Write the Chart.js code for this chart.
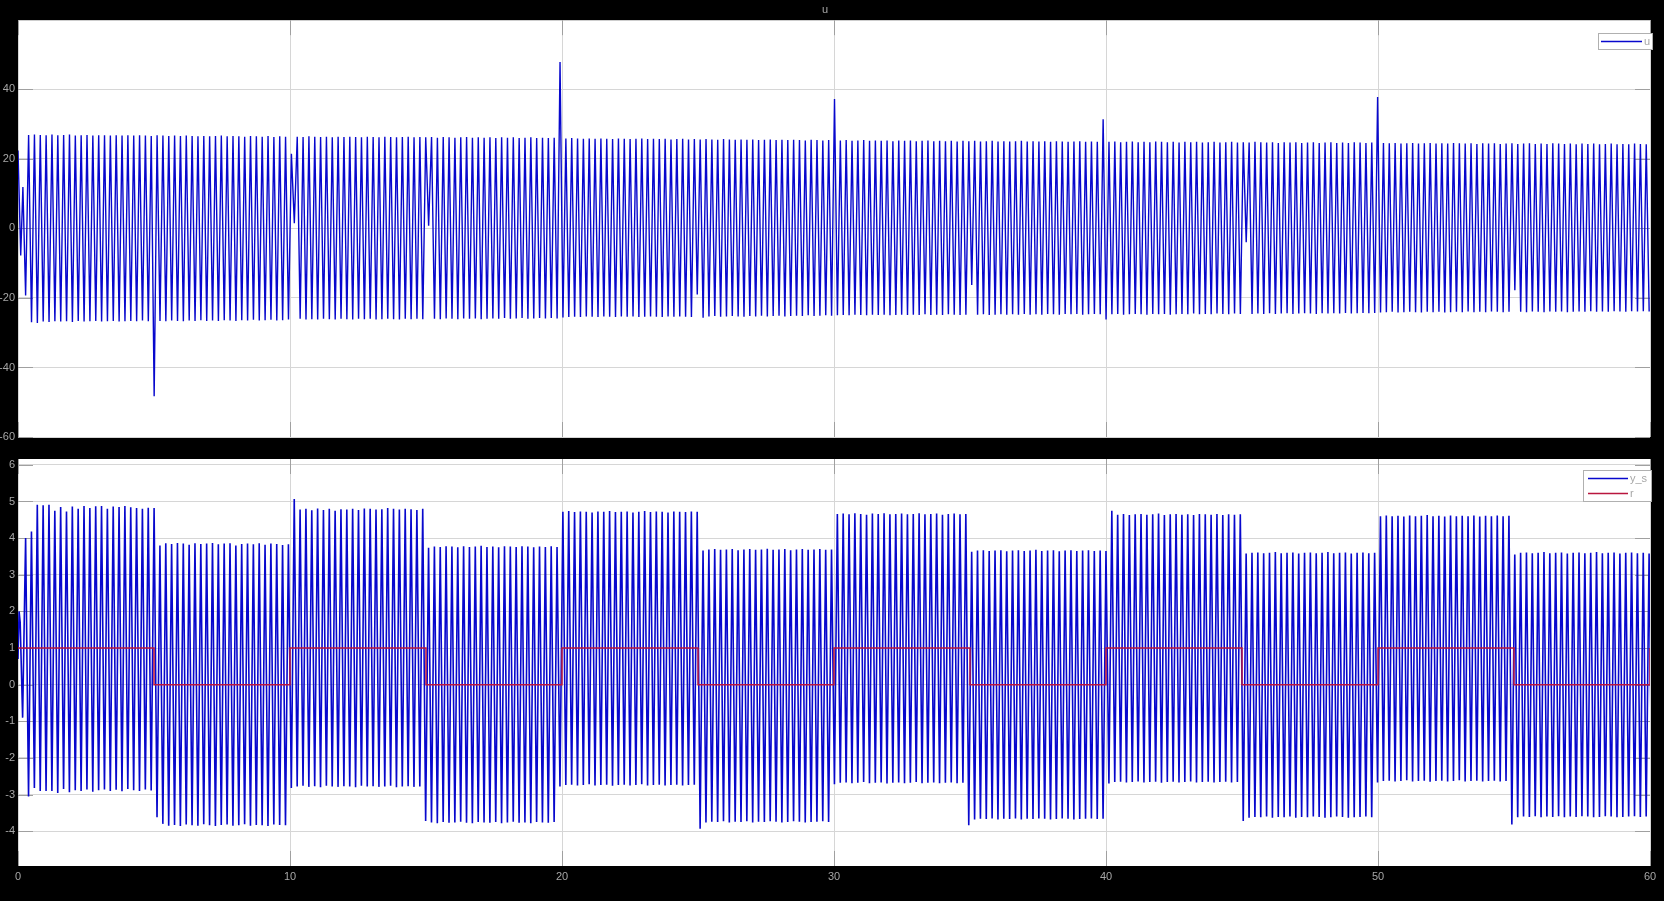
<!DOCTYPE html>
<html><head><meta charset="utf-8">
<script src="https://cdn.jsdelivr.net/npm/chart.js@4.4.1/dist/chart.umd.min.js"></script>
<style>
html,body{margin:0;padding:0;background:#000;width:1664px;height:901px;overflow:hidden}
#c1{position:absolute;left:0;top:0}
#c2{position:absolute;left:0;top:448px}
</style></head><body>
<canvas id="c1" width="1664" height="448"></canvas>
<canvas id="c2" width="1664" height="453"></canvas>
<script>
// ---------- data ----------
const xTicks = [0, 10, 20, 30, 40, 50, 60];
const uYTicks = [-60, -40, -20, 0, 20, 40];
const yYTicks = [-4, -3, -2, -1, 0, 1, 2, 3, 4, 5, 6];

// oscillation period (s) of both signals
const period = 0.2147;

// u : start-up transient, then alternating peaks / troughs every half period
const uStartT = [0, 0.10, 0.18, 0.28];
const uStartV = [22.4, -7.8, 11.9, -19.3];
const uT0 = 0.39;
const uPeaks = [
 26.9,27.0,26.9,26.8,27.0, 26.8,26.9,27.0,26.7,26.8, 26.9,26.7,26.8,26.8,26.7, 26.8,26.7,26.8,26.7,26.8, 26.7,26.6,26.8,26.7,26.6, 26.7,26.6,26.7,26.6,26.5, 26.6,26.5,26.6,26.7,26.5, 26.6,26.5,26.4,26.6,26.5, 26.4,26.6,26.3,26.5,26.4,
 21.5,26.4,26.3,26.5,26.4, 26.3,26.4,26.2,26.4,26.3, 26.4,26.3,26.2,26.4,26.3, 26.2,26.4,26.3,26.2,26.3, 26.4,26.2,26.3,26.2,26.3, 26.1,26.3,26.2,26.1,26.2, 26.3,26.1,26.2,26.1,26.2, 26.0,26.2,26.1,26.2,26.0, 26.1,26.2,26.0,26.1,26.0, 26.1,47.9,
 25.9,26.0,25.9,25.8,25.9, 25.8,25.9,25.8,25.7,25.9, 25.8,25.7,25.8,25.9,25.7, 25.8,25.7,25.8,25.6,25.7, 25.8,25.6,25.7,25.6,25.7, 25.6,25.5,25.7,25.6,25.5, 25.6,25.5,25.6,25.4,25.5, 25.6,25.4,25.5,25.4,25.5, 25.4,25.3,25.5,25.4,25.3, 25.4,
 37.2,25.3,25.4,25.2,25.3, 25.4,25.2,25.3,25.2,25.3, 25.1,25.3,25.2,25.3,25.1, 25.2,25.3,25.1,25.2,25.1, 25.2,25.0,25.2,25.1,25.2, 25.0,25.1,25.2,25.0,25.1, 25.0,25.1,25.2,25.0,25.1, 25.0,25.1,24.9,25.1,25.0, 24.9,25.0,25.1,24.9,25.0, 24.9,31.4,
 24.9,25.0,24.8,24.9,25.0, 24.8,24.9,24.8,25.0,24.9, 24.8,24.9,24.7,24.9,24.8, 24.9,24.7,24.8,24.9,24.7, 24.8,24.9,24.7,24.8,24.7, 24.9,24.8,24.7,24.8,24.6, 24.8,24.7,24.8,24.6,24.7, 24.8,24.6,24.7,24.8,24.6, 24.7,24.6,24.8,24.7,24.6, 24.7,37.8,
 24.6,24.5,24.6,24.4,24.5, 24.6,24.4,24.5,24.6,24.4, 24.5,24.4,24.6,24.5,24.4, 24.5,24.3,24.5,24.4,24.5, 24.3,24.4,24.5,24.3,24.4, 24.5,24.3,24.4,24.3,24.5, 24.4,24.3,24.4,24.2,24.4, 24.3,24.4,24.2,24.3,24.4, 24.2,24.3,24.2,24.4,24.3, 24.2
];
const uTroughs = [
 -27.0,-27.2,-26.8,-26.9,-26.7, -26.8,-26.7,-26.9,-26.6,-26.8, -26.7,-26.6,-26.8,-26.7,-26.6, -26.8,-26.7,-26.6,-26.7,-26.5, -26.7,-48.3,-26.6,-26.7,-26.5, -26.6,-26.7,-26.5,-26.6,-26.4, -26.6,-26.5,-26.6,-26.4,-26.5, -26.6,-26.4,-26.5,-26.3,-26.5, -26.4,-26.3,-26.5,-26.4,-26.2,
 1.5,-26.0,-26.2,-26.1,-26.2, -26.0,-26.1,-26.2,-26.0,-26.1, -26.2,-26.0,-26.1,-26.0,-26.2, -26.1,-26.0,-26.1,-26.2,-26.0, -26.1,-26.0,-26.1,0.8,-26.0, -26.1,-25.9,-26.0,-26.1,-25.9, -26.0,-25.9,-26.1,-26.0,-25.9, -26.0,-25.8,-26.0,-25.9,-25.8, -26.0,-25.9,-25.8,-25.9,-25.8, -25.9,
 -25.6,-25.5,-25.4,-25.5,-25.3, -25.4,-25.5,-25.3,-25.4,-25.5, -25.3,-25.4,-25.3,-25.5,-25.4, -25.3,-25.4,-25.5,-25.3,-25.4, -25.3,-25.4,-25.5,-19.0,-25.7, -25.3,-25.2,-25.4,-25.3,-25.2, -25.3,-25.4,-25.2,-25.3,-25.1, -25.3,-25.2,-25.1,-25.3,-25.2, -25.1,-25.2,-25.0,-25.2,-25.1, -25.0,-25.1,
 -25.0,-24.9,-25.0,-24.8,-24.9, -25.0,-24.8,-24.9,-24.8,-25.0, -24.9,-24.8,-24.9,-24.8,-24.9, -24.7,-24.9,-24.8,-24.9,-24.7, -24.8,-24.9,-24.8,-16.3,-24.8, -24.7,-24.9,-24.8,-24.7,-24.8, -24.7,-24.8,-24.6,-24.8,-24.7, -24.8,-24.6,-24.7,-24.8,-24.6, -24.7,-24.6,-24.8,-24.7,-24.6, -24.7,
 -26.2,-24.7,-24.6,-24.8,-24.7, -24.6,-24.7,-24.8,-24.6,-24.7, -24.6,-24.8,-24.7,-24.6,-24.7, -24.5,-24.7,-24.6,-24.7,-24.5, -24.6,-24.7,-24.5,-24.6,-4.0, -24.6,-24.5,-24.6,-24.4,-24.6, -24.5,-24.4,-24.6,-24.5,-24.4, -24.5,-24.6,-24.4,-24.5,-24.4, -24.5,-24.3,-24.5,-24.4,-24.3, -24.4,-24.3,
 -24.2,-24.1,-24.0,-24.2,-24.1, -24.0,-24.1,-24.2,-24.0,-24.1, -24.0,-24.2,-24.1,-24.0,-24.1, -23.9,-24.1,-24.0,-24.1,-23.9, -24.0,-24.1,-24.0,-17.8,-24.0, -24.1,-23.9,-24.0,-24.1,-23.9, -24.0,-23.9,-24.1,-24.0,-23.9, -24.0,-23.8,-24.0,-23.9,-24.0, -23.8,-23.9,-24.0,-23.8,-23.9, -23.8,-23.9
];

// y_s : start-up transient, then alternating peaks / troughs
const ysStartT = [0, 0.04, 0.08, 0.17];
const ysStartV = [0.7, 2.0, 1.7, -0.9];
const ysT0 = 0.28;
const ysPeaks = [
 4.0,4.18,4.91,4.9,4.91, 4.75,4.85,4.73,4.86,4.8, 4.88,4.82,4.87,4.88,4.8, 4.86,4.85,4.88,4.84,4.82, 4.8,4.83,4.82,
 3.8,3.86,3.84,3.87,3.85, 3.82,3.86,3.84,3.85,3.87, 3.83,3.85,3.86,3.8,3.84, 3.85,3.83,3.86,3.82,3.85, 3.84,3.81,3.83,
 5.07,4.78,4.8,4.76,4.81, 4.77,4.8,4.75,4.79,4.78, 4.8,4.77,4.81,4.8,4.78, 4.79,4.82,4.8,4.78,4.8, 4.79,4.77,4.8,
 3.74,3.77,3.76,3.78,3.77, 3.75,3.78,3.76,3.77,3.79, 3.76,3.77,3.75,3.78,3.77, 3.76,3.78,3.77,3.75,3.77, 3.76,3.78,3.76,
 4.72,4.74,4.71,4.73,4.72, 4.7,4.73,4.72,4.74,4.71, 4.72,4.73,4.7,4.72,4.74, 4.71,4.73,4.72,4.7,4.73, 4.72,4.71,4.73,4.72,
 3.66,3.69,3.7,3.68,3.69, 3.7,3.67,3.69,3.7,3.68, 3.69,3.71,3.68,3.69,3.7, 3.67,3.69,3.7,3.68,3.69, 3.7,3.68,3.69,
 4.66,4.67,4.65,4.68,4.66, 4.64,4.67,4.66,4.68,4.65, 4.66,4.67,4.65,4.66,4.68, 4.65,4.66,4.67,4.64,4.66, 4.67,4.65,4.66,
 3.63,3.66,3.67,3.65,3.66, 3.67,3.64,3.66,3.67,3.65, 3.66,3.68,3.65,3.66,3.67, 3.64,3.66,3.67,3.65,3.66, 3.67,3.65,3.66,3.65,
 4.75,4.64,4.66,4.63,4.65, 4.66,4.64,4.65,4.67,4.63, 4.65,4.66,4.64,4.65,4.63, 4.66,4.65,4.64,4.66,4.63, 4.65,4.64,4.65,
 3.58,3.6,3.61,3.59,3.6, 3.62,3.59,3.6,3.61,3.58, 3.6,3.61,3.59,3.6,3.62, 3.59,3.6,3.61,3.58,3.6, 3.61,3.59,3.6,
 4.6,4.62,4.6,4.61,4.59, 4.62,4.6,4.61,4.63,4.6, 4.61,4.59,4.62,4.6,4.61, 4.6,4.62,4.59,4.61,4.6, 4.62,4.6,4.61,
 3.55,3.6,3.61,3.59,3.6, 3.62,3.59,3.6,3.61,3.58, 3.6,3.61,3.59,3.6,3.62, 3.59,3.6,3.61,3.58,3.6, 3.61,3.59,3.6,3.58
];
const ysTroughs = [
 -3.05,-2.82,-2.9,-2.9,-2.9, -2.96,-2.85,-2.94,-2.88,-2.9, -2.86,-2.92,-2.88,-2.86,-2.9, -2.87,-2.91,-2.85,-2.88,-2.9, -2.86,-2.89,
 -3.62,-3.8,-3.85,-3.83,-3.86, -3.82,-3.84,-3.85,-3.81,-3.84, -3.86,-3.83,-3.82,-3.85,-3.84, -3.81,-3.85,-3.83,-3.84,-3.86, -3.82,-3.83,-3.84,
 -2.82,-2.78,-2.76,-2.79,-2.77, -2.8,-2.76,-2.78,-2.79,-2.77, -2.78,-2.8,-2.76,-2.78,-2.77, -2.79,-2.78,-2.76,-2.8,-2.78, -2.77,-2.79,-2.78,
 -3.72,-3.76,-3.78,-3.75,-3.77, -3.76,-3.74,-3.77,-3.78,-3.75, -3.76,-3.77,-3.75,-3.78,-3.76, -3.74,-3.77,-3.76,-3.78,-3.75, -3.76,-3.77,-3.75,
 -2.78,-2.74,-2.73,-2.75,-2.74, -2.72,-2.75,-2.74,-2.73,-2.76, -2.74,-2.73,-2.75,-2.74,-2.72, -2.75,-2.74,-2.73,-2.75,-2.74, -2.73,-2.75,-2.74,-2.73,
 -3.93,-3.76,-3.74,-3.75,-3.73, -3.76,-3.74,-3.75,-3.73,-3.76, -3.74,-3.75,-3.73,-3.74,-3.76, -3.75,-3.73,-3.74,-3.76,-3.75, -3.74,-3.73,-3.75,
 -2.72,-2.68,-2.67,-2.69,-2.68, -2.66,-2.69,-2.68,-2.67,-2.7, -2.68,-2.67,-2.69,-2.68,-2.66, -2.69,-2.68,-2.67,-2.69,-2.68, -2.67,-2.69,-2.68,
 -3.84,-3.68,-3.66,-3.67,-3.65, -3.68,-3.66,-3.67,-3.65,-3.68, -3.66,-3.67,-3.65,-3.66,-3.68, -3.67,-3.65,-3.66,-3.68,-3.67, -3.66,-3.65,-3.67,-3.66,
 -2.7,-2.66,-2.65,-2.67,-2.66, -2.64,-2.67,-2.66,-2.65,-2.68, -2.66,-2.65,-2.67,-2.66,-2.64, -2.67,-2.66,-2.65,-2.67,-2.66, -2.65,-2.67,-2.66,
 -3.72,-3.63,-3.61,-3.62,-3.6, -3.63,-3.61,-3.62,-3.6,-3.63, -3.61,-3.62,-3.6,-3.61,-3.63, -3.62,-3.6,-3.61,-3.63,-3.62, -3.61,-3.6,-3.62,
 -2.67,-2.63,-2.62,-2.64,-2.63, -2.61,-2.64,-2.63,-2.62,-2.65, -2.63,-2.62,-2.64,-2.63,-2.61, -2.64,-2.63,-2.62,-2.64,-2.63, -2.62,-2.64,-2.63,
 -3.82,-3.62,-3.6,-3.61,-3.59, -3.62,-3.6,-3.61,-3.59,-3.62, -3.6,-3.61,-3.59,-3.6,-3.62, -3.61,-3.59,-3.6,-3.62,-3.61, -3.6,-3.59,-3.61,-3.6,-3.6
];

// r : reference step signal (value holds from its time until the next one)
const rTimes = [0, 5, 10, 15, 20, 25, 30, 35, 40, 45, 50, 55, 60];
const rValues = [1, 0, 1, 0, 1, 0, 1, 0, 1, 0, 1, 0, 1];

// ---------- build point lists ----------
function buildSeries(startT, startV, t0, peaks, troughs) {
  const pts = startT.map((t, i) => ({x: t, y: startV[i]}));
  for (let m = 0; m < peaks.length; m++) {
    pts.push({x: t0 + m * period, y: peaks[m]});
    if (m < troughs.length) pts.push({x: t0 + (m + 0.5) * period, y: troughs[m]});
  }
  return pts;
}
const uData = buildSeries(uStartT, uStartV, uT0, uPeaks, uTroughs);
const ysData = buildSeries(ysStartT, ysStartV, ysT0, ysPeaks, ysTroughs);
const rData = rTimes.map((t, i) => ({x: t, y: rValues[i]}));

// ---------- styling ----------
const BLUE = 'rgb(8,8,205)';
const RED = 'rgb(185,22,62)';
const TXT = '#a6a6a6';
const GRID = '#d6d6d6';
Chart.defaults.font.family = 'Arial, "Liberation Sans", Helvetica, sans-serif';
Chart.defaults.font.size = 11;
Chart.defaults.color = TXT;

const whiteArea = {
  id: 'whiteArea',
  beforeDraw(chart) {
    const {ctx, chartArea: a} = chart;
    ctx.save(); ctx.fillStyle = '#fff';
    ctx.fillRect(a.left, a.top, a.right - a.left, a.bottom - a.top);
    ctx.restore();
  }
};
const innerTicks = {
  id: 'innerTicks',
  beforeDatasetsDraw(chart) {
    const {ctx, chartArea: a, scales} = chart;
    const L = 15;
    ctx.save(); ctx.strokeStyle = '#a0a0a0'; ctx.lineWidth = 1;
    ctx.beginPath();
    scales.y.ticks.forEach(t => {
      const y = Math.round(scales.y.getPixelForValue(t.value)) + 0.5;
      ctx.moveTo(a.left, y); ctx.lineTo(a.left + L, y);
      ctx.moveTo(a.right - L, y); ctx.lineTo(a.right, y);
    });
    scales.x.ticks.forEach(t => {
      const x = Math.round(scales.x.getPixelForValue(t.value)) + 0.5;
      ctx.moveTo(x, a.bottom); ctx.lineTo(x, a.bottom - L);
      ctx.moveTo(x, a.top); ctx.lineTo(x, a.top + L);
    });
    ctx.stroke(); ctx.restore();
  }
};
const boxLegend = {
  id: 'boxLegend',
  afterDraw(chart, args, opts) {
    const {ctx, chartArea: a} = chart;
    const ds = chart.data.datasets.slice().sort((p, q) => (p.legendRank || 0) - (q.legendRank || 0));
    const rowH = 15;
    const w = opts.width, h = ds.length * rowH + 2;
    const x0 = Math.round(a.right + opts.dx - w), y0 = Math.round(a.top + opts.dy);
    ctx.save();
    ctx.fillStyle = '#fff'; ctx.fillRect(x0, y0, w, h);
    ctx.strokeStyle = '#b0b0b0'; ctx.lineWidth = 1; ctx.strokeRect(x0 + 0.5, y0 + 0.5, w - 1, h - 1);
    ds.forEach((d, i) => {
      const y = y0 + 1 + rowH * (i + 0.5);
      ctx.strokeStyle = d.borderColor; ctx.lineWidth = 1.5;
      ctx.beginPath(); ctx.moveTo(x0 + opts.lineX, y); ctx.lineTo(x0 + opts.lineX + opts.lineLen, y); ctx.stroke();
      ctx.fillStyle = TXT; ctx.font = '11px Arial, "Liberation Sans", sans-serif';
      ctx.textBaseline = 'middle'; ctx.textAlign = 'left';
      ctx.fillText(d.label, x0 + opts.lineX + opts.lineLen + 2, y);
    });
    ctx.restore();
  }
};

function xScale(showLabels) {
  return {
    type: 'linear', min: 0, max: 60,
    afterBuildTicks: s => { s.ticks = xTicks.map(v => ({value: v})); },
    afterFit: s => { s.height = showLabels ? 35 : 0; },
    grid: {color: GRID, drawTicks: false},
    border: {display: false},
    ticks: {display: showLabels, padding: 4, color: TXT, maxRotation: 0, autoSkip: false}
  };
}
function yScale(min, max, ticks) {
  return {
    type: 'linear', min: min, max: max,
    afterBuildTicks: s => { s.ticks = ticks.map(v => ({value: v})); },
    afterFit: s => { s.width = 18; },
    grid: {color: GRID, drawTicks: false},
    border: {display: false},
    ticks: {padding: 3, color: TXT}
  };
}

new Chart(document.getElementById('c1'), {
  type: 'line',
  data: {datasets: [{label: 'u', data: uData, borderColor: BLUE, borderWidth: 1.4, pointRadius: 0, tension: 0, fill: false}]},
  options: {
    responsive: false, animation: false, devicePixelRatio: 1,
    layout: {padding: {top: 0, right: 14, bottom: 11, left: 0}},
    scales: {x: xScale(false), y: yScale(-60, 59.9, uYTicks)},
    plugins: {
      legend: {display: false}, tooltip: {enabled: false},
      title: {display: true, text: 'u', color: TXT, font: {size: 11, weight: 'normal'}, padding: {top: 3, bottom: 4}},
      boxLegend: {width: 55, dx: 3, dy: 13, lineX: 3, lineLen: 41}
    }
  },
  plugins: [whiteArea, innerTicks, boxLegend]
});

new Chart(document.getElementById('c2'), {
  type: 'line',
  data: {datasets: [
    {label: 'y_s', data: ysData, borderColor: BLUE, borderWidth: 1.6, pointRadius: 0, tension: 0, fill: false, order: 2, legendRank: 0},
    {label: 'r', data: rData, borderColor: RED, borderWidth: 1.5, pointRadius: 0, stepped: 'before', fill: false, order: 1, legendRank: 1}
  ]},
  options: {
    responsive: false, animation: false, devicePixelRatio: 1,
    layout: {padding: {top: 11, right: 14, bottom: 0, left: 0}},
    scales: {x: xScale(true), y: yScale(-4.95, 6.16, yYTicks)},
    plugins: {
      legend: {display: false}, tooltip: {enabled: false},
      boxLegend: {width: 69, dx: 2, dy: 11, lineX: 5, lineLen: 40}
    }
  },
  plugins: [whiteArea, innerTicks, boxLegend]
});
</script>
</body></html>
